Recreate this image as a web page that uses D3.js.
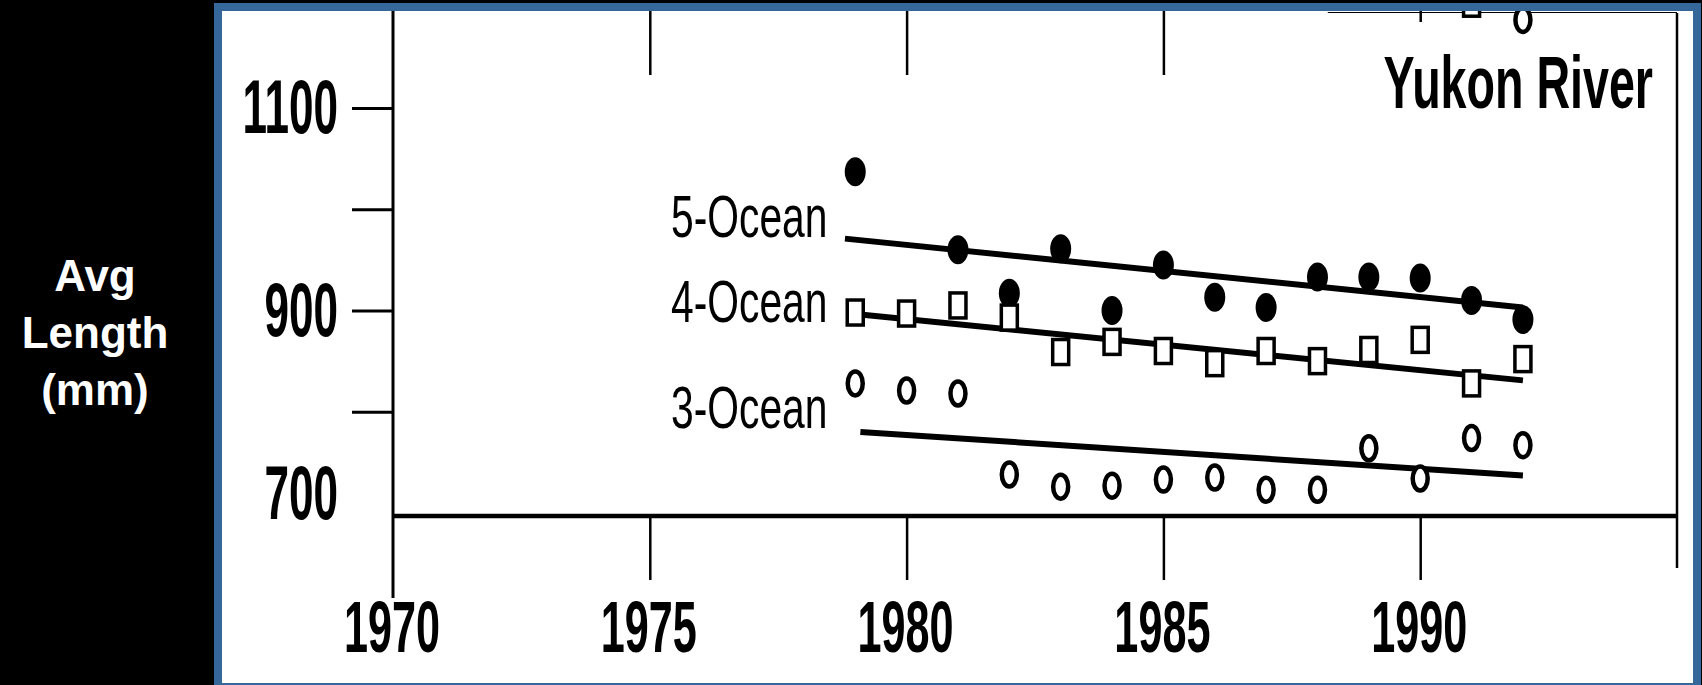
<!DOCTYPE html>
<html>
<head>
<meta charset="utf-8">
<title>Yukon River – average length by ocean age</title>
<script src="https://cdn.jsdelivr.net/npm/d3@7"></script>
<style>
  html, body { margin: 0; padding: 0; background: #000; overflow: hidden; }
  svg { display: block; }
</style>
</head>
<body>
<svg id="chart" width="1702" height="685"></svg>
<script>
// ---- data -------------------------------------------------------------
const panelTitle = "Yukon River";
const yTitleLines = ["Avg", "Length", "(mm)"];
const seriesNames = ["5-Ocean", "4-Ocean", "3-Ocean"];

// 5-ocean fish (filled circles); no sample in 1980
const years5 = [1979, 1981, 1982, 1983, 1984, 1985, 1986, 1987, 1988, 1989, 1990, 1991, 1992];
const ocean5 = [1037, 960, 917, 961, 900, 945, 913, 903, 933, 933, 932, 910, 891];

// 4-ocean fish (open squares)
const years4 = [1979, 1980, 1981, 1982, 1983, 1984, 1985, 1986, 1987, 1988, 1989, 1990, 1991, 1992];
const ocean4 = [898, 897, 905, 893, 859, 869, 860, 848, 860, 850, 861, 871, 828, 852];

// 3-ocean fish (open circles)
const years3 = [1979, 1980, 1981, 1982, 1983, 1984, 1985, 1986, 1987, 1988, 1989, 1990, 1991, 1992];
const ocean3 = [828, 821, 818, 738, 726, 727, 733, 735, 723, 723, 764, 734, 774, 767];

// fitted trend lines: [start, end]
const trendYears5 = [1978.8, 1992];
const trend5 = [971, 903];
const trendYears4 = [1978.9, 1992];
const trend4 = [897, 831];
const trendYears3 = [1979.1, 1992];
const trend3 = [780, 737];

// markers of the neighbouring panel that spill over the top edge
const upperSquareYears = [1991];
const upperSquares = [1203];
const upperCircleYears = [1992];
const upperCircles = [1187];

const xTickValues = [1970, 1975, 1980, 1985, 1990];
const yTickValues = [800, 900, 1000, 1100];
const yLabelValues = [700, 900, 1100];

// ---- layout -----------------------------------------------------------
const W = 1702, H = 685;
const svg = d3.select("#chart");
const FONT = "'Liberation Sans', Arial, Helvetica, sans-serif";
const frameBlue = "#35679b";

const x = d3.scaleLinear().domain([1970, 1995]).range([393, 1677]);
const y = d3.scaleLinear().domain([700, 1100]).range([513, 108]);
const axisY = 516;      // baseline of the x axis
const topY = 11;        // upper edge of the white panel

// black page
svg.append("rect").attr("width", W).attr("height", H).attr("fill", "#000");

// white panel with blue frame
svg.append("rect")
  .attr("x", 218).attr("y", 7).attr("width", 1479).attr("height", 680)
  .attr("fill", "#fff").attr("stroke", frameBlue).attr("stroke-width", 8);

svg.append("defs").append("clipPath").attr("id", "panel")
  .append("rect").attr("x", 222).attr("y", topY).attr("width", 1471).attr("height", 672);

// y title on the black margin
const yTitle = svg.append("text")
  .attr("text-anchor", "middle")
  .attr("font-family", FONT).attr("font-weight", "bold")
  .attr("font-size", 44).attr("fill", "#fff");
yTitleLines.forEach((t, i) => {
  yTitle.append("tspan").attr("x", 95).attr("y", 291 + i * 57).text(t);
});

const plot = svg.append("g").attr("clip-path", "url(#panel)");

// condensed text helper (narrow typeface of the printed figure)
function squeezed(sel, txt, px, py, size, sx, anchor, weight) {
  return sel.append("text")
    .attr("transform", `translate(${px},${py}) scale(${sx},1)`)
    .attr("text-anchor", anchor)
    .attr("font-family", FONT)
    .attr("font-weight", weight)
    .attr("font-size", size)
    .attr("fill", "#000")
    .text(txt);
}

// ---- axes -------------------------------------------------------------
// y axis ticks (outward)
const yAxis = plot.append("g")
  .attr("transform", `translate(${x(1970) - 1},0)`)
  .call(d3.axisLeft(y).tickValues(yTickValues).tickSize(40).tickFormat(""));
yAxis.select(".domain").remove();
yAxis.selectAll(".tick line").attr("stroke", "#000").attr("stroke-width", 3);

// y axis line runs from the top edge down past the x axis
plot.append("line")
  .attr("x1", x(1970)).attr("x2", x(1970))
  .attr("y1", topY).attr("y2", 598)
  .attr("stroke", "#000").attr("stroke-width", 3);

// x axis line
plot.append("line")
  .attr("x1", x(1970)).attr("x2", x(1995))
  .attr("y1", axisY).attr("y2", axisY)
  .attr("stroke", "#000").attr("stroke-width", 4.5);

// right frame line
plot.append("line")
  .attr("x1", x(1995)).attr("x2", x(1995))
  .attr("y1", 13).attr("y2", 568)
  .attr("stroke", "#000").attr("stroke-width", 2.5);

// remnant of the upper frame line
plot.append("line")
  .attr("x1", x(1988.2)).attr("x2", x(1995))
  .attr("y1", 12.5).attr("y2", 12.5)
  .attr("stroke", "#000").attr("stroke-width", 1.2);

// bottom ticks (below the axis)
const xAxisBottom = plot.append("g")
  .attr("transform", `translate(0,${axisY})`)
  .call(d3.axisBottom(x).tickValues(xTickValues.slice(1)).tickSize(64).tickFormat(""));
xAxisBottom.select(".domain").remove();
xAxisBottom.selectAll(".tick line").attr("stroke", "#000").attr("stroke-width", 2.5);

// top ticks hanging from the upper edge
const xAxisTop = plot.append("g")
  .attr("transform", `translate(0,${topY})`)
  .call(d3.axisBottom(x).tickValues(xTickValues.slice(1)).tickSize(64).tickFormat(""));
xAxisTop.select(".domain").remove();
xAxisTop.selectAll(".tick line")
  .attr("stroke", "#000").attr("stroke-width", 2.5)
  .attr("y2", d => d === 1990 ? 11 : 64);

// tick labels
yLabelValues.forEach((v, i) => {
  const lift = i === 0 ? 19 : 0;   // lowest label sits above the x axis
  squeezed(plot, String(v), 338, y(v) + 25 - lift, 76, 0.58, "end", "bold");
});
xTickValues.forEach(v => {
  squeezed(plot, String(v), x(v) - 1, 652, 72, 0.6, "middle", "bold");
});

// ---- trend lines --------------------------------------------------------
const line = d3.line().x(d => x(d[0])).y(d => y(d[1]));
[[trendYears5, trend5], [trendYears4, trend4], [trendYears3, trend3]].forEach(([ty, tv]) => {
  plot.append("path")
    .datum(ty.map((t, i) => [t, tv[i]]))
    .attr("d", line)
    .attr("fill", "none").attr("stroke", "#000").attr("stroke-width", 6);
});

// ---- markers ------------------------------------------------------------
// 5-ocean: filled circles
plot.append("g").selectAll("ellipse")
  .data(years5.map((yr, i) => [yr, ocean5[i]]))
  .join("ellipse")
  .attr("cx", d => x(d[0])).attr("cy", d => y(d[1]))
  .attr("rx", 10.5).attr("ry", 14.5)
  .attr("fill", "#000");

// 4-ocean: open squares
function squares(g, ys, vs) {
  g.selectAll("rect")
    .data(ys.map((yr, i) => [yr, vs[i]]))
    .join("rect")
    .attr("x", d => x(d[0]) - 8).attr("y", d => y(d[1]) - 12.5)
    .attr("width", 16).attr("height", 25)
    .attr("fill", "#fff").attr("stroke", "#000").attr("stroke-width", 3.5);
}
squares(plot.append("g"), years4, ocean4);

// 3-ocean: open circles
function rings(g, ys, vs) {
  g.selectAll("ellipse")
    .data(ys.map((yr, i) => [yr, vs[i]]))
    .join("ellipse")
    .attr("cx", d => x(d[0])).attr("cy", d => y(d[1]))
    .attr("rx", 7.5).attr("ry", 12)
    .attr("fill", "#fff").attr("stroke", "#000").attr("stroke-width", 4.5);
}
rings(plot.append("g"), years3, ocean3);

// clipped markers from the panel above
squares(plot.append("g"), upperSquareYears, upperSquares);
rings(plot.append("g"), upperCircleYears, upperCircles);

// ---- labels ---------------------------------------------------------------
const labelBaselines = [237, 322, 428];
seriesNames.forEach((n, i) => {
  squeezed(plot, n, 671, labelBaselines[i], 60, 0.68, "start", "normal");
});

squeezed(plot, panelTitle, 1653, 108, 74, 0.63, "end", "bold");
</script>
</body>
</html>
